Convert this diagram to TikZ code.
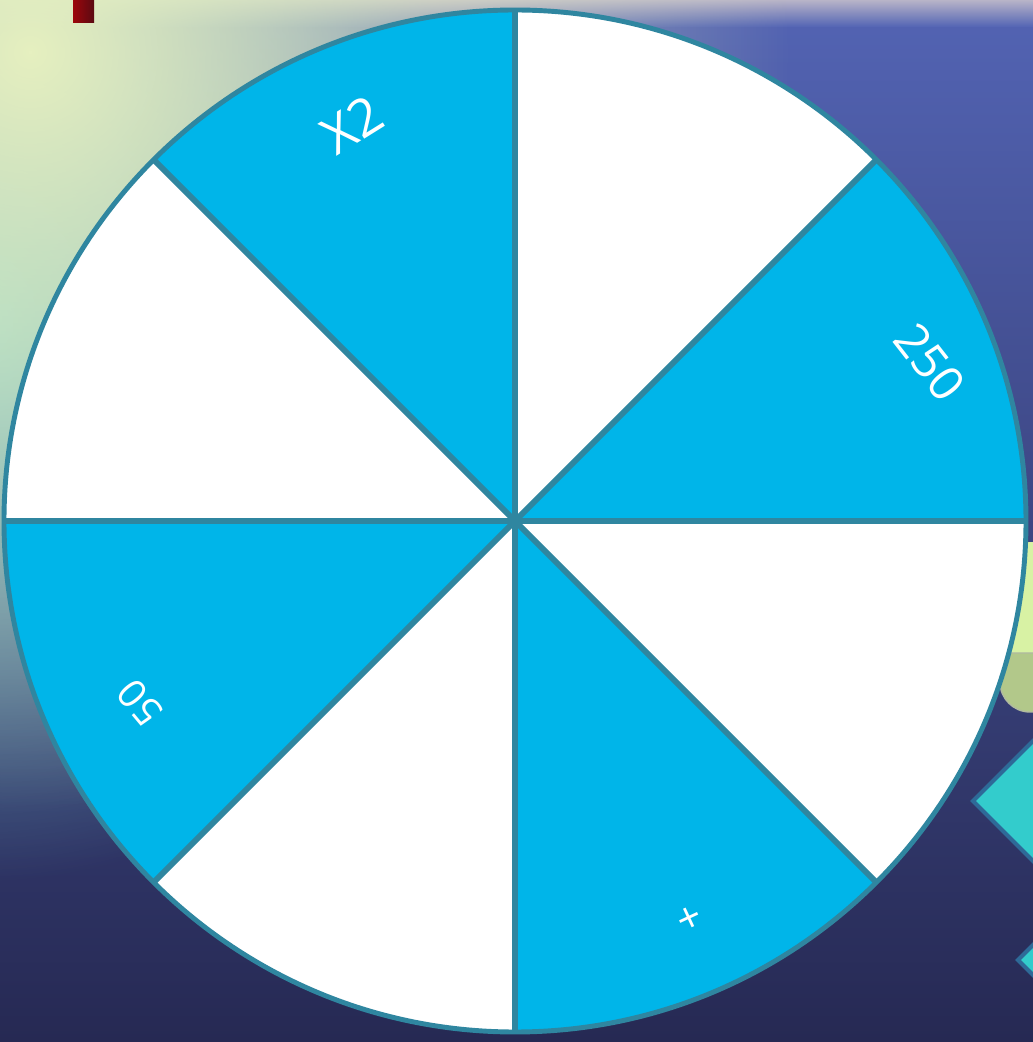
\documentclass[tikz,border=0pt]{standalone}
\usepackage{fontspec}
\setmainfont{Open Sans}
\usetikzlibrary{fadings}
\definecolor{seatop}{HTML}{5364B4}
\definecolor{seabot}{HTML}{262953}
\definecolor{mist}{HTML}{B8B4C8}
\definecolor{haze}{HTML}{E6F0C0}
\definecolor{lagoon}{HTML}{7ACACA}
\definecolor{wheelblue}{HTML}{00B5E9}
\definecolor{rim}{HTML}{2F86A0}
\definecolor{tealdia}{HTML}{33CCCC}
\definecolor{diaedge}{HTML}{2E6A98}
\definecolor{leaf}{HTML}{D8F2A4}
\definecolor{olive}{HTML}{B2C88A}
\definecolor{maroon}{HTML}{5A0A12}
\tikzfading[name=glow, inner color=transparent!0, outer color=transparent!100]
\tikzset{prize/.style={text=white,inner sep=0pt,font=\fontsize{#1}{#1}\selectfont}}

\begin{document}
\begin{tikzpicture}[x=0.025cm,y=0.025cm]
\useasboundingbox (0,0) rectangle (1033,1042);
\begin{scope}
\clip (0,0) rectangle (1033,1042);
% sea background
\shade[top color=seatop,bottom color=seabot] (0,0) rectangle (1033,1042);
\shade[top color=mist,bottom color=seatop] (0,1015) rectangle (1033,1042);
\fill[lagoon,path fading=glow] (-30,720) circle (560);
\fill[haze,path fading=glow] (30,990) circle (760);
\shade[left color=maroon!60!red,right color=maroon] (73,1019) rectangle (94,1042);
% shapes on the right
\fill[leaf] (1000,389) rectangle (1040,500);
\draw[olive!70!black!60,fill=olive,line width=1pt] (1040,330) -- (1030,330) arc[start angle=270,end angle=180,radius=30] -- (1000,389) -- (1040,389);
\draw[diaedge,fill=tealdia,line width=3pt] (973,241) -- (1073,341) -- (1173,241) -- (1073,141) -- cycle;
\draw[diaedge,fill=tealdia,line width=3pt] (1018,82) -- (1118,182) -- (1218,82) -- (1118,-18) -- cycle;
\end{scope}
% the wheel
\def\wheelr{511}
\coordinate (hub) at (515,521);
\fill[white] (hub) circle (\wheelr);
\foreach \a in {0,90,180,270}{\fill[wheelblue] (hub) -- ++(\a:\wheelr) arc[start angle=\a,end angle=\a+45,radius=\wheelr] -- cycle;}
\foreach \a in {0,45,...,315}{\draw[rim,line width=4.2pt] (hub) -- ++(\a:\wheelr);}
\draw[rim,line width=3.5pt] (hub) circle (\wheelr);
\node[prize=37,rotate=32] (xtwo) at (352,917) {X2};
\node[prize=34,rotate=-52] (twofifty) at (930,680) {250};
\node[prize=28,rotate=130] (fifty) at (140,339) {50};
\node[prize=30,rotate=25] (plus) at (690,122) {+};
\end{tikzpicture}
\end{document}
